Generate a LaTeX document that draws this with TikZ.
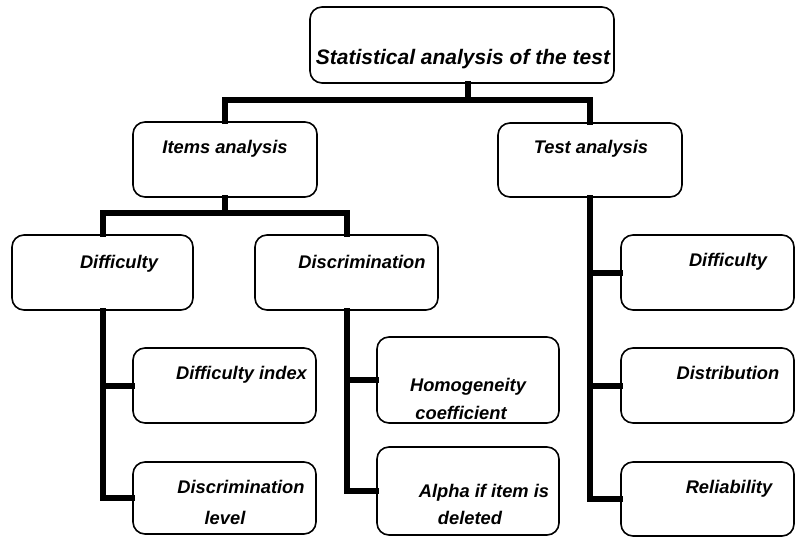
\documentclass[tikz,border=0pt]{standalone}
\usepackage{fontspec}
\setmainfont{Liberation Sans}[BoldFont={Liberation Sans Bold},ItalicFont={Liberation Sans Italic},BoldItalicFont={Liberation Sans Bold Italic}]
\begin{document}
\begin{tikzpicture}[x=1pt,y=-1pt,
  box/.style={draw=black,line width=1.6pt,rounded corners=12pt,inner sep=0pt,fill=white},
  lbl/.style={anchor=base,inner sep=0pt,font=\fontsize{18.3}{20}\selectfont\bfseries\itshape},
  conn/.style={draw=black,line width=6pt,line join=miter,line cap=rect}]
\useasboundingbox (0,0) rectangle (795,536);
\coordinate (j1) at (468,100);
\coordinate (j2) at (225,213);
\node[box,minimum width=304pt,minimum height=76pt] (top) at (462,45) {};
\node[box,minimum width=184pt,minimum height=75pt] (items) at (225,159.5) {};
\node[box,minimum width=184pt,minimum height=74pt] (test) at (590,160) {};
\node[box,minimum width=181pt,minimum height=75pt] (diff) at (102.5,272.5) {};
\node[box,minimum width=183pt,minimum height=75pt] (disc) at (346.5,272.5) {};
\node[box,minimum width=183pt,minimum height=75pt] (dindex) at (224.5,385.5) {};
\node[box,minimum width=183pt,minimum height=72pt] (dlevel) at (224.5,498) {};
\node[box,minimum width=182pt,minimum height=86pt] (homog) at (468,380) {};
\node[box,minimum width=182pt,minimum height=88pt] (alpha) at (468,491) {};
\node[box,minimum width=173pt,minimum height=75pt] (rdiff) at (707.5,272.5) {};
\node[box,minimum width=173pt,minimum height=75pt] (dist) at (707.5,385.5) {};
\node[box,minimum width=173pt,minimum height=74pt] (rel) at (707.5,499) {};
% connectors
\draw[conn] (top.south -| j1) -- (j1);
\draw[conn] (items.north) |- (j1) -| (test.north);
\draw[conn] (items.south) -- (j2);
\draw[conn] (diff.north) |- (j2) -| (disc.north);
\draw[conn] (diff.south) |- (dindex.west);
\draw[conn] (diff.south) |- (dlevel.west);
\draw[conn] (disc.south) |- (homog.west);
\draw[conn] (disc.south) |- (alpha.west);
\draw[conn] (test.south) |- (rdiff.west);
\draw[conn] (test.south) |- (dist.west);
\draw[conn] (test.south) |- (rel.west);
% labels
\node[lbl,font=\fontsize{21}{23}\selectfont\bfseries\itshape] (ttop) at (463,64) {Statistical analysis of the test};
\node[lbl] (titems) at (225,153) {Items analysis};
\node[lbl] (ttest) at (591,153) {Test analysis};
\node[lbl] (tdiff) at (119,268) {Difficulty};
\node[lbl] (tdisc) at (362,268) {Discrimination};
\node[lbl] (trdiff) at (728,266) {Difficulty};
\node[lbl] (tdindex) at (241.5,379) {Difficulty index};
\node[lbl] (tdlevela) at (241,493) {Discrimination};
\node[lbl] (tdlevelb) at (225,524) {level};
\node[lbl] (thomoga) at (468,391) {Homogeneity};
\node[lbl] (thomogb) at (461,419) {coefficient};
\node[lbl] (talphaa) at (484,497) {Alpha if item is};
\node[lbl] (talphab) at (470,524) {deleted};
\node[lbl] (tdist) at (728,379) {Distribution};
\node[lbl] (trel) at (729,493) {Reliability};
\end{tikzpicture}
\end{document}
